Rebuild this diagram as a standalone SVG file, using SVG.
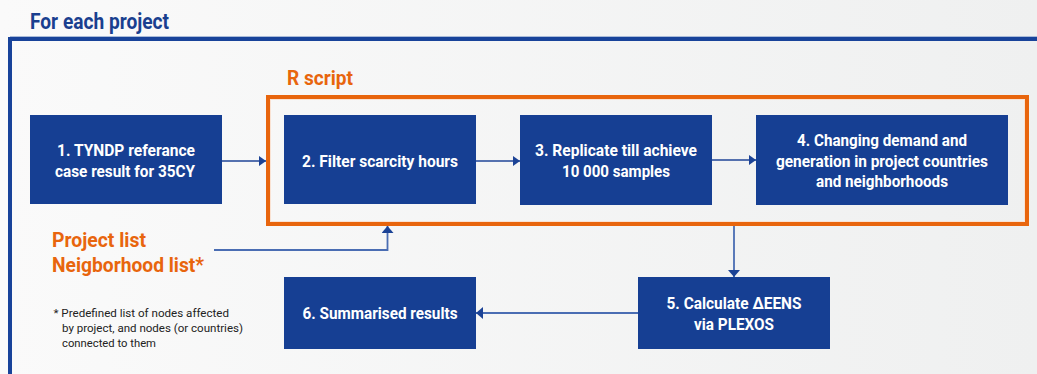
<svg xmlns="http://www.w3.org/2000/svg" width="1037" height="374" viewBox="0 0 1037 374">
  <defs>
    <linearGradient id="bg" x1="0" y1="0" x2="1" y2="0">
      <stop offset="0" stop-color="#fafafa"/>
      <stop offset="1" stop-color="#eff0f0"/>
    </linearGradient>
    <marker id="arr" markerUnits="userSpaceOnUse" markerWidth="8" markerHeight="12" refX="7" refY="5" orient="auto">
      <path d="M0,0 L7,5 L0,10 z" fill="#1c4396"/>
    </marker>
    <marker id="arr2" markerUnits="userSpaceOnUse" markerWidth="8" markerHeight="14" refX="7" refY="6" orient="auto">
      <path d="M0,0 L7,6 L0,12 z" fill="#1c4396"/>
    </marker>
    <style>
      .node { fill: #163f93; }
      .nt { font-family: Roboto, "Liberation Sans", sans-serif; font-weight: 700; font-size: 17px; fill: #ffffff; text-anchor: middle; }
      .org { font-family: Roboto, "Liberation Sans", sans-serif; font-weight: 700; font-size: 20.5px; fill: #e8650d; }
      .foot { font-family: Roboto, "Liberation Sans", sans-serif; font-size: 11.8px; fill: #222222; }
      .conn { fill: none; stroke: #1f4497; stroke-width: 1.5; }
      .conn2 { fill: none; stroke: #4a6db3; stroke-width: 1.8; }
    </style>
  </defs>

  <rect x="0" y="0" width="1037" height="374" fill="url(#bg)"/>

  <!-- outer frame -->
  <g id="frame">
    <text x="30" y="29" font-family="Roboto, 'Liberation Sans', sans-serif" font-weight="700" font-size="22" fill="#1a3f8f" textLength="139" lengthAdjust="spacingAndGlyphs">For each project</text>
    <line x1="10" y1="36.5" x2="1037" y2="36.5" stroke="#a9bbd9" stroke-width="1"/>
    <rect x="10" y="39" width="1040" height="400" fill="none" stroke="#18439a" stroke-width="4"/>
  </g>

  <!-- R script box -->
  <g id="rscript">
    <text class="org" x="287" y="85" textLength="66" lengthAdjust="spacingAndGlyphs">R script</text>
    <rect x="268" y="97" width="759" height="127" fill="none" stroke="#e8650d" stroke-width="4"/>
    <rect x="270.5" y="99.5" width="754" height="122" fill="none" stroke="#f9e2d3" stroke-width="1"/>
  </g>

  <!-- connectors -->
  <g id="connectors">
    <line class="conn" x1="222" y1="161" x2="266" y2="161" marker-end="url(#arr)"/>
    <line class="conn" x1="476" y1="161" x2="520" y2="161" marker-end="url(#arr)"/>
    <line class="conn" x1="712" y1="160" x2="756" y2="160" marker-end="url(#arr)"/>
    <line class="conn2" x1="734" y1="226" x2="734" y2="277" marker-end="url(#arr2)"/>
    <line class="conn2" x1="638" y1="313" x2="476" y2="313" marker-end="url(#arr2)"/>
    <polyline class="conn2" points="214,250 387.5,250 387.5,226" marker-end="url(#arr2)"/>
  </g>

  <g id="node1">
    <rect class="node" x="30" y="115" width="192" height="89"/>
    <text class="nt" x="126" y="156" textLength="138" lengthAdjust="spacingAndGlyphs">1. TYNDP referance</text>
    <text class="nt" x="125" y="176.5" textLength="140" lengthAdjust="spacingAndGlyphs">case result for 35CY</text>
  </g>

  <g id="node2">
    <rect class="node" x="284" y="115" width="192" height="89"/>
    <text class="nt" x="380" y="166.5" textLength="156" lengthAdjust="spacingAndGlyphs">2. Filter scarcity hours</text>
  </g>

  <g id="node3">
    <rect class="node" x="520" y="115" width="192" height="90"/>
    <text class="nt" x="616" y="156" textLength="162" lengthAdjust="spacingAndGlyphs">3. Replicate till achieve</text>
    <text class="nt" x="616" y="176.5" textLength="108" lengthAdjust="spacingAndGlyphs">10 000 samples</text>
  </g>

  <g id="node4">
    <rect class="node" x="756" y="115" width="252" height="90"/>
    <text class="nt" x="882" y="145.5" textLength="170" lengthAdjust="spacingAndGlyphs">4. Changing demand and</text>
    <text class="nt" x="882" y="166.5" textLength="212" lengthAdjust="spacingAndGlyphs">generation in project countries</text>
    <text class="nt" x="882" y="187" textLength="132" lengthAdjust="spacingAndGlyphs">and neighborhoods</text>
  </g>

  <g id="node5">
    <rect class="node" x="638" y="277" width="192" height="72"/>
    <text class="nt" x="734" y="308.5" textLength="135" lengthAdjust="spacingAndGlyphs">5. Calculate ΔEENS</text>
    <text class="nt" x="734" y="330" textLength="80" lengthAdjust="spacingAndGlyphs">via PLEXOS</text>
  </g>

  <g id="node6">
    <rect class="node" x="284" y="277" width="192" height="72"/>
    <text class="nt" x="380" y="319" textLength="155" lengthAdjust="spacingAndGlyphs">6. Summarised results</text>
  </g>

  <g id="lists">
    <text class="org" x="52" y="246.5" textLength="94" lengthAdjust="spacingAndGlyphs">Project list</text>
    <text class="org" x="52" y="272" textLength="152" lengthAdjust="spacingAndGlyphs">Neigborhood list*</text>
  </g>

  <g id="footnote">
    <text class="foot" x="53.5" y="316.5" textLength="175.5" lengthAdjust="spacingAndGlyphs">* Predefined list of nodes affected</text>
    <text class="foot" x="62" y="331.5" textLength="181" lengthAdjust="spacingAndGlyphs">by project, and nodes (or countries)</text>
    <text class="foot" x="62" y="347" textLength="94" lengthAdjust="spacingAndGlyphs">connected to them</text>
  </g>
</svg>
